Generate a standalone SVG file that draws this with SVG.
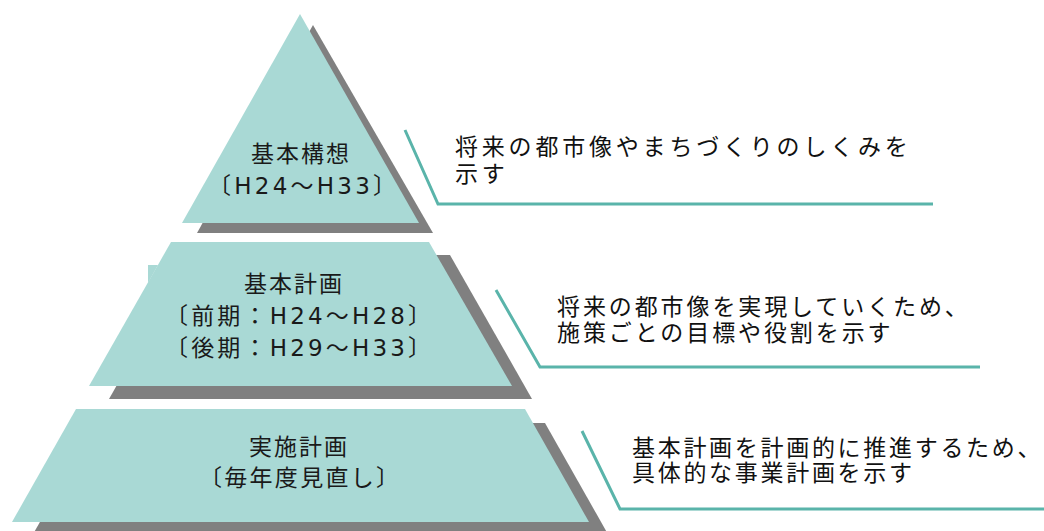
<svg xmlns="http://www.w3.org/2000/svg" width="1044" height="531" viewBox="0 0 1044 531">
  <style>
    .shadow { fill: #808080; }
    .tier { fill: #a9d9d5; }
    .lbl { font-family: "DejaVu Sans", "Noto Sans CJK JP", sans-serif; font-size: 23px; fill: #1a1a1a; text-anchor: middle; }
    .desc { font-family: "Liberation Sans", "Noto Sans CJK JP", sans-serif; font-size: 23px; fill: #111111; }
    .conn { fill: none; stroke: #5ab4aa; stroke-width: 3; stroke-linejoin: miter; }
  </style>
  <rect width="1044" height="531" fill="#ffffff"/>

  <g id="node-kihonkoso">
    <polygon class="shadow" points="313,25 197,233 433,233"/>
    <polygon class="tier" points="300,14 182,223 419,223"/>
    <text class="lbl" x="301" y="162" letter-spacing="2">基本構想</text>
    <text class="lbl" x="302" y="194" textLength="188" lengthAdjust="spacing">〔H24〜H33〕</text>
  </g>

  <g id="node-kihonkeikaku">
    <polygon class="shadow" points="191,255 450,255 532,399 109,399"/>
    <polygon class="tier" points="171,242 429,242 512,386 89,386"/>
    <polygon class="tier" points="148,265 158,265 148,283"/>
    <text class="lbl" x="294" y="292" letter-spacing="2">基本計画</text>
    <text class="lbl" x="298" y="324" textLength="266" lengthAdjust="spacing">〔前期：H24〜H28〕</text>
    <text class="lbl" x="298" y="356" textLength="266" lengthAdjust="spacing">〔後期：H29〜H33〕</text>
  </g>

  <g id="node-jisshikeikaku">
    <polygon class="shadow" points="96,423 545,423 609,536 32,536"/>
    <polygon class="tier" points="76,409 525,409 589,522 12,522"/>
    <text class="lbl" x="299" y="455" letter-spacing="2">実施計画</text>
    <text class="lbl" x="299" y="486" textLength="200" lengthAdjust="spacing">〔毎年度見直し〕</text>
  </g>

  <g id="connectors">
    <polyline class="conn" points="405,130 438,204 933,204"/>
    <polyline class="conn" points="496,290 540,367 980,367"/>
    <polyline class="conn" points="582,431 620,509 1044,509"/>
  </g>

  <g id="desc-kihonkoso">
    <text class="desc" x="455" y="155" letter-spacing="3.8">将来の都市像やまちづくりのしくみを</text>
    <text class="desc" x="455" y="182" letter-spacing="3.8">示す</text>
  </g>
  <g id="desc-kihonkeikaku">
    <text class="desc" x="557" y="315" letter-spacing="2.9">将来の都市像を実現していくため、</text>
    <text class="desc" x="557" y="341" letter-spacing="2.9">施策ごとの目標や役割を示す</text>
  </g>
  <g id="desc-jisshikeikaku">
    <text class="desc" x="632" y="456" letter-spacing="2.7">基本計画を計画的に推進するため、</text>
    <text class="desc" x="632" y="481" letter-spacing="2.7">具体的な事業計画を示す</text>
  </g>
</svg>
